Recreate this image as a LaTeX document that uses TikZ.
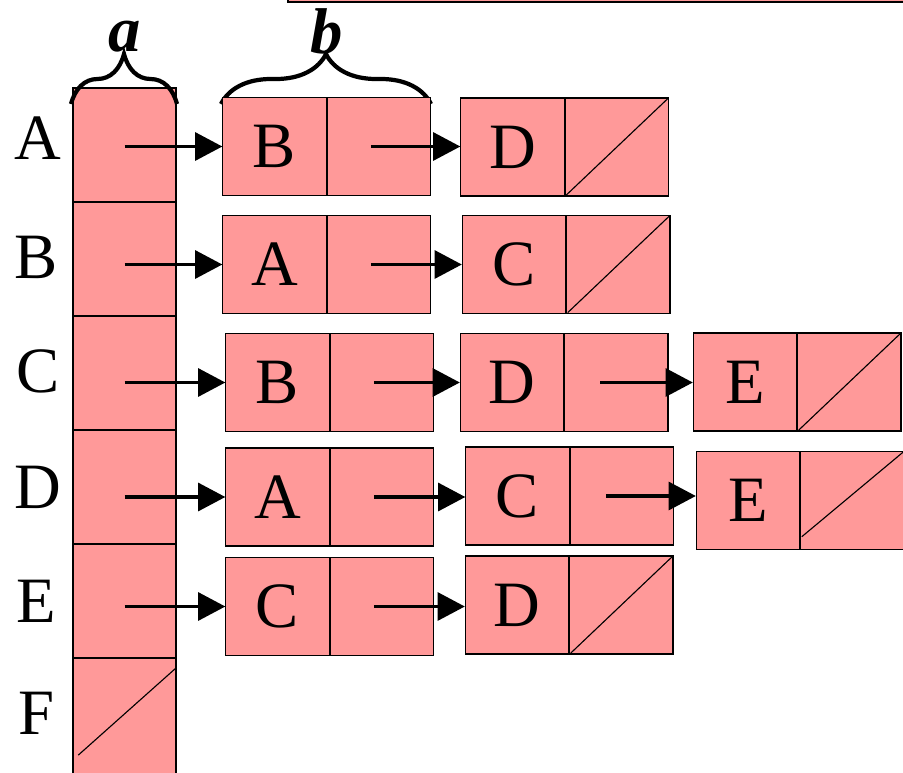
\documentclass[tikz,border=0pt]{standalone}
\usepackage{fontspec}
\setmainfont{Liberation Serif}
\usepackage{tikz}
\usetikzlibrary{arrows.meta,positioning,decorations.pathreplacing}
\definecolor{cellpink}{RGB}{255,153,153}
\newcommand{\bigfont}{\fontsize{46}{50}\selectfont}
\tikzset{
  cell/.style={draw,fill=cellpink,line width=0.8pt,minimum width=2.58cm,minimum height=2.45cm,inner sep=0pt,font=\bigfont},
  acell/.style={cell,minimum width=2.575cm,minimum height=2.85cm},
  lbl/.style={inner sep=0pt,font=\bigfont},
  arr/.style={-{Triangle[length=0.68cm,width=0.7cm]},line width=2.2pt},
  nil/.style={line width=0.8pt,shorten <=1.5pt,shorten >=1.5pt},
  brc/.style={decorate,decoration={brace,amplitude=1.25cm},line width=3pt}
}

\begin{document}
\begin{tikzpicture}[x=0.025cm,y=-0.025cm]
\clip (0,0) rectangle (903,772);
\draw[line width=0.8pt,fill=cellpink](288,-20) rectangle (920,2);
% head array
\foreach \i/\y in {1/145,2/259,3/373,4/487,5/601}
  \node[acell] (a\i) at (124.5,\y) {};
\node[acell,minimum height=3.2cm] (a6) at (124.5,722) {};
\draw[nil] ([xshift=3pt,yshift=0.75cm]a6.south west) -- ([xshift=1pt,yshift=-0.22cm]a6.north east);
\node[lbl] (rA) at (38,138) {A};
\node[lbl] (rB) at (36,257) {B};
\node[lbl] (rC) at (38,371) {C};
\node[lbl] (rD) at (38,487) {D};
\node[lbl] (rE) at (36,601) {E};
\node[lbl] (rF) at (36,713) {F};
% braces
\draw[brc](71,104)--(177,104);
\draw[brc](221,104)--(431,104);
\node[lbl,font=\bigfont\bfseries\itshape] (ta) at (125,37) {a};
\node[lbl,font=\bigfont\bfseries\itshape] (tb) at (327,31) {b};
% row A
\node[cell] (n11) at (274.5,146.5) {B};
\node[cell,right=0pt of n11] (p11) {};
\node[cell] (n12) at (512.5,147) {D};
\node[cell,right=0pt of n12] (p12) {};
\draw[nil](p12.south west)--(p12.north east);
% row B
\node[cell] (n21) at (274.5,264.5) {A};
\node[cell,right=0pt of n21] (p21) {};
\node[cell] (n22) at (514,264.5) {C};
\node[cell,right=0pt of n22] (p22) {};
\draw[nil](p22.south west)--(p22.north east);
% row C
\node[cell] (n31) at (277.5,382.5) {B};
\node[cell,right=0pt of n31] (p31) {};
\node[cell] (n32) at (512,382.5) {D};
\node[cell,right=0pt of n32] (p32) {};
\node[cell] (n33) at (745,382) {E};
\node[cell,right=0pt of n33] (p33) {};
\draw[nil](p33.south west)--(p33.north east);
% row D
\node[cell] (n41) at (277.5,497) {A};
\node[cell,right=0pt of n41] (p41) {};
\node[cell] (n42) at (517.5,496) {C};
\node[cell,right=0pt of n42] (p42) {};
\node[cell] (n43) at (748,500.5) {E};
\node[cell,right=0pt of n43] (p43) {};
\draw[nil]([yshift=0.3cm]p43.south west)--(p43.north east);
% row E
\node[cell] (n51) at (277.5,606.5) {C};
\node[cell,right=0pt of n51] (p51) {};
\node[cell] (n52) at (517,605) {D};
\node[cell,right=0pt of n52] (p52) {};
\draw[nil](p52.south west)--(p52.north east);
% pointers
\foreach \i in {1,...,5}
  \draw[arr](a\i.center |- n\i1.west)--(n\i1.west);
\foreach \i in {1,...,5}
  \draw[arr]([xshift=-0.2cm]p\i1.center)--(p\i1.center -| n\i2.west);
\draw[arr]([xshift=-0.4cm]p32.center)--(p32.center -| n33.west);
\draw[arr]([xshift=-0.4cm]p42.center)--(p42.center -| n43.west);
\end{tikzpicture}
\end{document}
